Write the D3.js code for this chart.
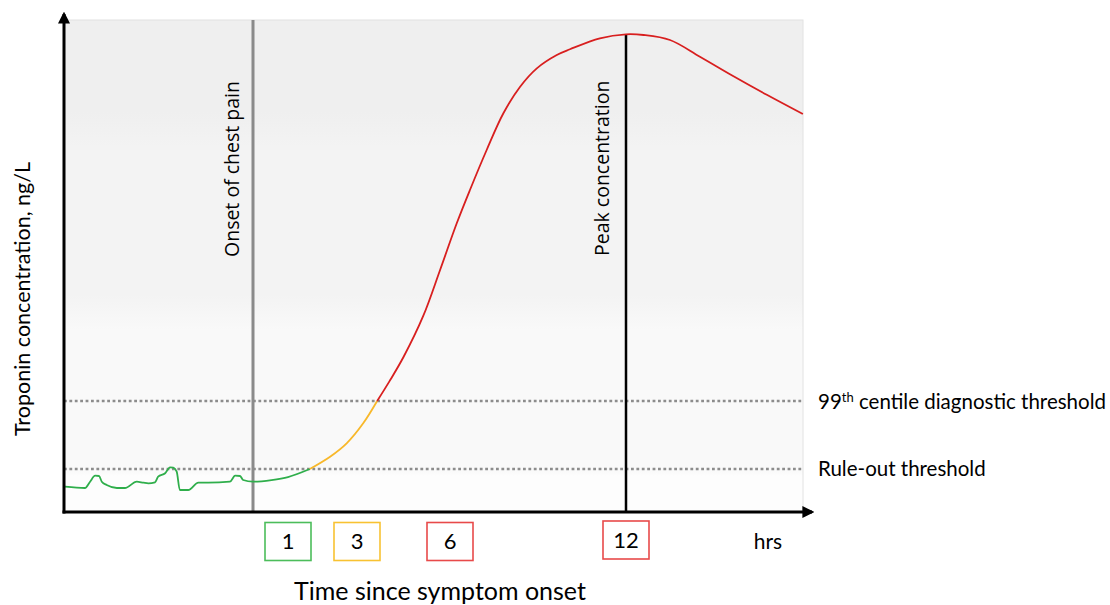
<!DOCTYPE html>
<html>
<head>
<meta charset="utf-8">
<script src="https://cdn.jsdelivr.net/npm/d3@7"></script>
<style>
  html, body { margin: 0; padding: 0; background: #fff; }
  svg { display: block; }
</style>
</head>
<body>
<svg id="chart" width="1110" height="605"></svg>
<script>
// ---------- data ----------
// time in hours since symptom onset, troponin in arbitrary ng/L units (0-100)
const greenT = [-5.37, -4.80, -4.66, -4.51, -4.40, -4.32, -4.18, -3.89, -3.66, -3.32, -3.13, -2.99, -2.80, -2.71, -2.51, -2.37, -2.28, -2.18, -2.09, -1.85, -1.56, -1.28, -0.66, -0.51, -0.37, -0.28, 0, 0.53, 1.0, 1.63];
const greenV = [5.14, 4.88, 6.10, 7.38, 7.32, 6.16, 5.49, 4.88, 4.88, 6.16, 5.96, 5.83, 6.04, 7.17, 7.87, 9.09, 9.00, 8.19, 4.47, 4.47, 5.96, 5.96, 6.16, 7.38, 7.32, 6.50, 6.16, 6.50, 7.11, 8.74];
const yellowT = [1.63, 2.22, 2.70, 3.20, 3.65];
const yellowV = [8.74, 11.24, 13.96, 18.03, 22.56];
const redT = [3.65, 4.05, 4.50, 5.14, 5.68, 6.23, 6.68, 7.25, 7.82, 8.39, 8.96, 9.64, 10.09, 11.11, 12.0, 12.6, 13.50, 14.52, 15.65, 16.80, 18.03];
const redV = [22.56, 26.60, 31.50, 39.90, 49.19, 58.68, 65.45, 73.58, 81.04, 86.44, 90.18, 92.89, 94.05, 96.28, 97.09, 96.95, 95.93, 92.54, 88.62, 84.80, 80.89];

const onsetTime = 0;
const peakTime = 12;
const peakValue = 97.09;
const ruleOutThreshold = 8.74;
const centileThreshold = 22.56;

const timeTicks = [1, 3, 6, 12];
const tickColors = ["#4cbd5b", "#f8c232", "#e84a4a", "#e84a4a"];
const thresholdLabels = ["99th centile diagnostic threshold", "Rule-out threshold"];

// ---------- layout ----------
const svg = d3.select("#chart");
const pLeft = 64, pRight = 803, pTop = 20, pBottom = 512;

const x = d3.scaleLinear().domain([0, 1, 3, 6, 12]).range([253, 288, 357, 450, 626]);
const y = d3.scaleLinear().domain([0, 100]).range([pBottom, pTop]);

// background gradient bands
const defs = svg.append("defs");
const grad = defs.append("linearGradient").attr("id", "bg").attr("x1", 0).attr("y1", 0).attr("x2", 0).attr("y2", 1);
const span = pBottom - pTop;
[[pTop, "#efefef"], [112, "#efefef"], [147, "#f3f3f3"], [295, "#f3f3f3"], [330, "#f9f9f9"], [470, "#f9f9f9"], [476, "#fdfdfd"], [pBottom, "#fdfdfd"]]
  .forEach(([py, c]) => grad.append("stop").attr("offset", ((py - pTop) / span)).attr("stop-color", c));

svg.append("rect").attr("x", pLeft).attr("y", pTop).attr("width", pRight - pLeft).attr("height", pBottom - pTop)
  .attr("fill", "url(#bg)").attr("stroke", "#e2e2e2").attr("stroke-width", 1);

// arrow marker
defs.append("marker").attr("id", "arrow").attr("viewBox", "0 0 10 10").attr("refX", 8).attr("refY", 5)
  .attr("markerWidth", 4).attr("markerHeight", 4).attr("orient", "auto-start-reverse")
  .append("path").attr("d", "M0,0 L10,5 L0,10 z").attr("fill", "#000");

// threshold dotted lines
const thresholds = [centileThreshold, ruleOutThreshold];
svg.selectAll(".thr").data(thresholds).enter().append("line")
  .attr("x1", pLeft).attr("x2", pRight)
  .attr("y1", d => y(d)).attr("y2", d => y(d))
  .attr("stroke", "#8c8c8c").attr("stroke-width", 2.6).attr("stroke-dasharray", "2.8,2.6");

// onset line
svg.append("line").attr("x1", x(onsetTime)).attr("x2", x(onsetTime)).attr("y1", pTop).attr("y2", pBottom)
  .attr("stroke", "#8a8a8a").attr("stroke-width", 3);

// peak line
svg.append("line").attr("x1", x(peakTime)).attr("x2", x(peakTime)).attr("y1", y(peakValue)).attr("y2", pBottom)
  .attr("stroke", "#000").attr("stroke-width", 2.5);

// curve segments
const lineMono = d3.line().x(d => x(d[0])).y(d => y(d[1])).curve(d3.curveMonotoneX);
const lineSmooth = d3.line().x(d => x(d[0])).y(d => y(d[1])).curve(d3.curveCatmullRom.alpha(0.5));
const segs = [
  [greenT, greenV, "#2fae4b", lineMono],
  [yellowT, yellowV, "#f8b82a", lineSmooth],
  [redT, redV, "#d81f1f", lineSmooth]
];
segs.forEach(([ts, vs, c, gen]) => {
  svg.append("path").datum(ts.map((t, i) => [t, vs[i]]))
    .attr("d", gen).attr("fill", "none").attr("stroke", c).attr("stroke-width", 1.8);
});

// axes
svg.append("line").attr("x1", pLeft).attr("x2", pLeft).attr("y1", pBottom + 1.5).attr("y2", 14)
  .attr("stroke", "#000").attr("stroke-width", 3).attr("marker-end", "url(#arrow)");
svg.append("line").attr("x1", pLeft - 1.5).attr("x2", 812).attr("y1", pBottom).attr("y2", pBottom)
  .attr("stroke", "#000").attr("stroke-width", 3).attr("marker-end", "url(#arrow)");

// vertical labels
svg.append("text").attr("transform", `translate(${x(onsetTime) - 14},257) rotate(-90)`)
  .attr("font-family", "Open Sans").attr("font-size", 19.5).attr("fill", "#000")
  .text("Onset of chest pain");
svg.append("text").attr("transform", `translate(${x(peakTime) - 17},256) rotate(-90)`)
  .attr("font-family", "Open Sans").attr("font-size", 19.5).attr("fill", "#000")
  .text("Peak concentration");

// y axis title
svg.append("text").attr("transform", "translate(30,299) rotate(-90)").attr("text-anchor", "middle")
  .attr("font-family", "Lato").attr("font-size", 21.5).attr("fill", "#000")
  .text("Troponin concentration, ng/L");

// threshold labels
const tl = svg.append("text").attr("x", 818).attr("y", y(centileThreshold) + 8)
  .attr("font-family", "Lato").attr("font-size", 20.5).attr("fill", "#000");
tl.append("tspan").text("99");
tl.append("tspan").attr("dy", -7).attr("font-size", 13).text("th");
tl.append("tspan").attr("dy", 7).text(" centile diagnostic threshold");
svg.append("text").attr("x", 818).attr("y", y(ruleOutThreshold) + 7)
  .attr("font-family", "Lato").attr("font-size", 20.5).attr("fill", "#000")
  .text(thresholdLabels[1]);

// time boxes
const bw = 46, bh = 38;
const boxes = svg.selectAll(".box").data(timeTicks).enter().append("g")
  .attr("transform", d => `translate(${x(d)},${d === 12 ? 540 : 541.5})`);
boxes.append("rect").attr("x", -bw / 2).attr("y", -bh / 2).attr("width", bw).attr("height", bh)
  .attr("fill", "#fff").attr("stroke", (d, i) => tickColors[i]).attr("stroke-width", 1.6);
boxes.append("text").attr("text-anchor", "middle").attr("dy", "0.36em")
  .attr("font-family", "Lato").attr("font-size", 22).attr("fill", "#000").text(d => d);

svg.append("text").attr("x", 768).attr("y", 549).attr("text-anchor", "middle")
  .attr("font-family", "Lato").attr("font-size", 21).attr("fill", "#000").text("hrs");

// x axis title
svg.append("text").attr("x", 440).attr("y", 600).attr("text-anchor", "middle")
  .attr("font-family", "Lato").attr("font-size", 25).attr("fill", "#000").text("Time since symptom onset");
</script>
</body>
</html>
